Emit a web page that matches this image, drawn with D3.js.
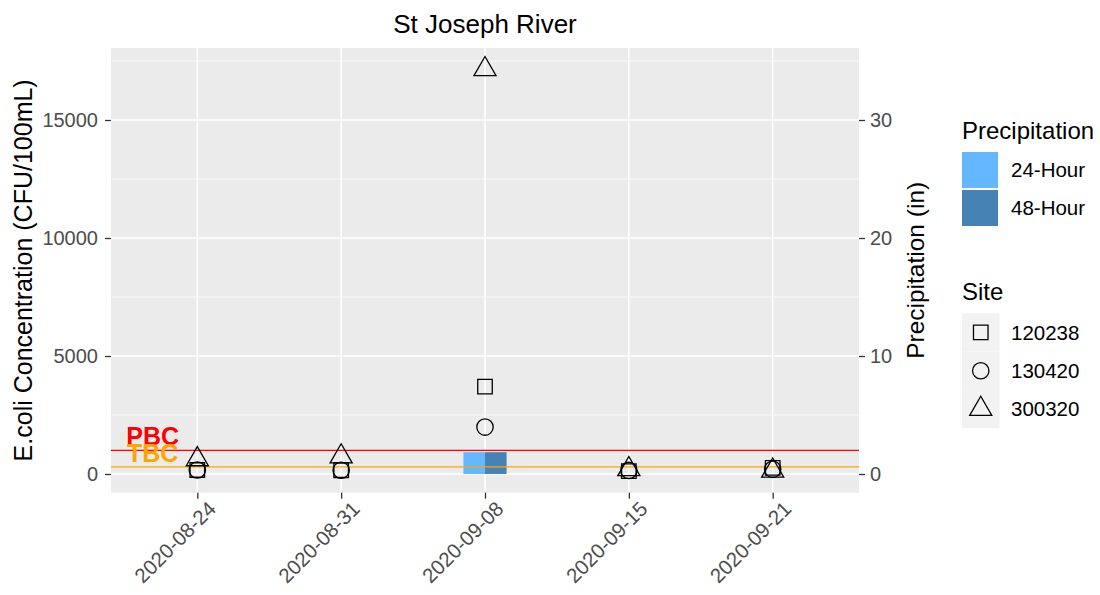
<!DOCTYPE html>
<html><head><meta charset="utf-8">
<script src="https://cdn.jsdelivr.net/npm/d3@7"></script>
<style>
body{margin:0;background:#fff}
svg{display:block}
text{font-family:"Liberation Sans",Arial,sans-serif}
</style>
</head><body>
<svg id="chart" width="1100" height="595"></svg>
<script>
// ---- data ----
const dates = ["2020-08-24","2020-08-31","2020-09-08","2020-09-15","2020-09-21"];
const sites = ["120238","130420","300320"];
const site120238 = [170, 160, 3700, 120, 260];
const site130420 = [170, 160, 1990, 150, 200];
const site300320 = [620, 740, 17150, 200, 140];
const precipTypes = ["24-Hour","48-Hour"];
const precip24 = [0, 0, 1.85, 0, 0];
const precip48 = [0, 0, 1.85, 0, 0];
const yTicks = [0, 5000, 10000, 15000];
const yMinorTicks = [2500, 7500, 12500, 17500];
const precipTicks = [0, 10, 20, 30];
const thresholdLabels = ["PBC", "TBC"];
const thresholdValues = [1000, 300];
const precipFactor = 500; // CFU per inch on the secondary axis
const yDomain = [-792, 18051];

// ---- layout ----
const P = {left: 111, right: 859, top: 48, bottom: 492.7};
const svg = d3.select("#chart");

const x = d3.scalePoint().domain(dates).range([P.left, P.right]).padding(0.6);
const y = d3.scaleLinear().domain(yDomain).range([P.bottom, P.top]);
const y2 = d3.scaleLinear().domain(yDomain.map(v => v / precipFactor)).range([P.bottom, P.top]);
const fillScale = d3.scaleOrdinal().domain(precipTypes).range(["#63B8FF", "#4682B4"]);
const threshColor = d3.scaleOrdinal().domain(thresholdLabels).range(["#FF0000", "#FFA500"]);
const step = x.step();

// panel
svg.append("rect").attr("x", P.left).attr("y", P.top)
  .attr("width", P.right - P.left).attr("height", P.bottom - P.top).attr("fill", "#EBEBEB");

const grid = svg.append("g");
grid.selectAll(".minor").data(yMinorTicks).join("line")
  .attr("x1", P.left).attr("x2", P.right)
  .attr("y1", d => y(d)).attr("y2", d => y(d))
  .attr("stroke", "#fff").attr("stroke-width", 0.8);
grid.selectAll(".major").data(yTicks).join("line")
  .attr("x1", P.left).attr("x2", P.right)
  .attr("y1", d => y(d)).attr("y2", d => y(d))
  .attr("stroke", "#fff").attr("stroke-width", 1.6);
grid.selectAll(".vx").data(dates).join("line")
  .attr("x1", d => x(d)).attr("x2", d => x(d))
  .attr("y1", P.top).attr("y2", P.bottom)
  .attr("stroke", "#fff").attr("stroke-width", 1.6);

// bars
const barData = [];
dates.forEach((d, i) => {
  barData.push({date: d, type: precipTypes[0], v: precip24[i], k: 0});
  barData.push({date: d, type: precipTypes[1], v: precip48[i], k: 1});
});
const bw = 0.15 * step;
svg.append("g").selectAll("rect").data(barData.filter(d => d.v > 0)).join("rect")
  .attr("x", d => x(d.date) - bw + d.k * bw)
  .attr("width", bw)
  .attr("y", d => y2(d.v))
  .attr("height", d => y2(0) - y2(d.v))
  .attr("fill", d => fillScale(d.type));

// threshold lines
const th = thresholdLabels.map((l, i) => ({label: l, value: thresholdValues[i]}));
svg.append("g").selectAll("line").data(th).join("line")
  .attr("x1", P.left).attr("x2", P.right)
  .attr("y1", d => y(d.value)).attr("y2", d => y(d.value))
  .attr("stroke", d => threshColor(d.label)).attr("stroke-width", 1.3);
svg.append("g").selectAll("text").data(th).join("text")
  .attr("x", x(dates[0]) - 0.31 * step)
  .attr("y", d => y(d.value) - 5)
  .attr("text-anchor", "middle")
  .attr("font-size", 25).attr("font-weight", "bold")
  .attr("fill", d => threshColor(d.label))
  .text(d => d.label);

// point shapes (open square, circle, triangle like R pch 0,1,2)
const R = 8.2;
function shapePath(k) {
  if (k === 0) { const h = R * 0.8862; return `M${-h},${-h}H${h}V${h}H${-h}Z`; }
  if (k === 1) { return `M${R},0A${R},${R} 0 1,1 ${-R},0A${R},${R} 0 1,1 ${R},0Z`; }
  const r = 1.5551 * R, xc = 1.3468 * R, yc = 0.7776 * R;
  return `M0,${-r}L${xc},${yc}L${-xc},${yc}Z`;
}
const siteValues = [site120238, site130420, site300320];
const pts = [];
sites.forEach((s, k) => dates.forEach((d, i) => pts.push({site: s, k, date: d, v: siteValues[k][i]})));
svg.append("g").selectAll("path").data(pts).join("path")
  .attr("transform", d => `translate(${x(d.date)},${y(d.v)})`)
  .attr("d", d => shapePath(d.k))
  .attr("fill", "none").attr("stroke", "#000").attr("stroke-width", 1.3);

// axes
const tickCol = "#333", labCol = "#4D4D4D";
const axL = svg.append("g").attr("transform", `translate(${P.left},0)`)
  .call(d3.axisLeft(y).tickValues(yTicks).tickSize(6).tickPadding(7).tickFormat(d3.format("d")));
const axR = svg.append("g").attr("transform", `translate(${P.right},0)`)
  .call(d3.axisRight(y2).tickValues(precipTicks).tickSize(6).tickPadding(5).tickFormat(d3.format("d")));
const axB = svg.append("g").attr("transform", `translate(0,${P.bottom})`)
  .call(d3.axisBottom(x).tickSize(6).tickFormat(d => d));
[axL, axR, axB].forEach(a => {
  a.select(".domain").remove();
  a.selectAll(".tick line").attr("stroke", tickCol).attr("stroke-width", 1.3);
  a.selectAll(".tick text").attr("fill", labCol).attr("font-size", 20)
    .attr("font-family", '"Liberation Sans",Arial,sans-serif');
});
axB.selectAll(".tick text")
  .attr("font-size", 20.5)
  .attr("text-anchor", "end")
  .attr("transform", "translate(9,7) rotate(-45)")
  .attr("y", 0).attr("x", 0).attr("dy", "0.72em");

// titles
svg.append("text").attr("x", (P.left + P.right) / 2).attr("y", 33)
  .attr("text-anchor", "middle").attr("font-size", 26).attr("fill", "#000")
  .text("St Joseph River");
svg.append("text")
  .attr("transform", `translate(32,${(P.top + P.bottom) / 2}) rotate(-90)`)
  .attr("text-anchor", "middle").attr("font-size", 25).attr("fill", "#000")
  .text("E.coli Concentration (CFU/100mL)");
svg.append("text")
  .attr("transform", `translate(924,${(P.top + P.bottom) / 2}) rotate(-90)`)
  .attr("text-anchor", "middle").attr("font-size", 24.5).attr("fill", "#000")
  .text("Precipitation (in)");

// legends
const lg = svg.append("g");
lg.append("text").attr("x", 962).attr("y", 139).attr("font-size", 24).text("Precipitation");
precipTypes.forEach((t, i) => {
  lg.append("rect").attr("x", 962).attr("y", 152 + i * 38).attr("width", 36).attr("height", 36)
    .attr("fill", fillScale(t));
  lg.append("text").attr("x", 1011).attr("y", 170 + i * 38).attr("dy", "0.35em")
    .attr("font-size", 20.5).attr("fill", "#000").text(t);
});
lg.append("text").attr("x", 962).attr("y", 300).attr("font-size", 24).text("Site");
sites.forEach((s, k) => {
  const cy = 313.3 + k * 38.3;
  lg.append("rect").attr("x", 962).attr("y", cy).attr("width", 37.5).attr("height", 38.3)
    .attr("fill", "#F2F2F2");
  lg.append("path").attr("transform", `translate(${962 + 18.75},${cy + 19.15})`)
    .attr("d", shapePath(k)).attr("fill", "none").attr("stroke", "#000").attr("stroke-width", 1.3);
  lg.append("text").attr("x", 1011).attr("y", cy + 19.15).attr("dy", "0.35em")
    .attr("font-size", 20.5).attr("fill", "#000").text(s);
});
</script>
</body></html>
